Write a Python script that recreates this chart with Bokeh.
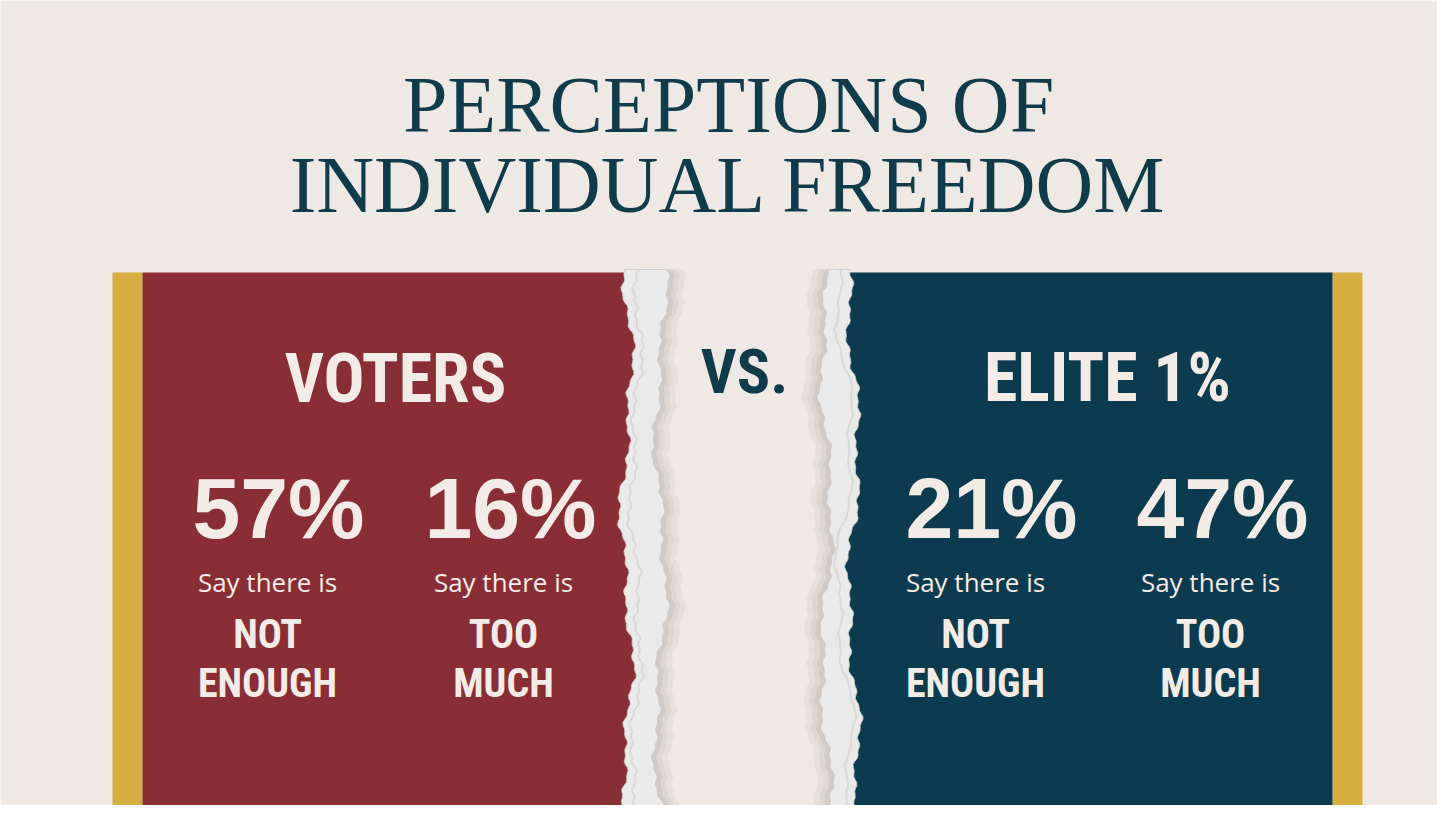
import numpy as np
from bokeh.plotting import figure
from bokeh.models import Range1d
from bokeh.core.properties import value
from bokeh.embed import file_html
from bokeh.resources import INLINE

# ---- data ----
title_lines = ["PERCEPTIONS OF", "INDIVIDUAL FREEDOM"]
groups = ["VOTERS", "ELITE 1%"]
not_enough = [57, 21]
too_much = [16, 47]
say_label = "Say there is"
answer_labels = [["NOT", "ENOUGH"], ["TOO", "MUCH"]]

# ---- style ----
BG = "#eee9e5"
RED = "#8a2e35"
BLUE = "#0c3a4e"
GOLD = "#d7ae40"
CREAM = "#f3ece6"
TEAL = "#0f3b4b"
PAPER = "#ebeaea"

W, H = 1437, 805
p = figure(width=W, height=H, output_backend="svg", toolbar_location=None,
           x_range=Range1d(0, W), y_range=Range1d(H, 0),
           min_border=0, background_fill_color=BG, border_fill_color=BG)
p.axis.visible = False
p.grid.visible = False
p.outline_line_color = None

TOP, BOT = 272, 830

# gold borders
p.quad(left=[112, 1332], right=[142, 1362], top=[TOP, TOP], bottom=[BOT, BOT],
       fill_color=GOLD, line_color=None)
# colour panels
p.quad(left=[142], right=[648], top=[TOP], bottom=[BOT], fill_color=RED, line_color=None)
p.quad(left=[838], right=[1332], top=[TOP], bottom=[BOT], fill_color=BLUE, line_color=None)

# torn paper edges (decorative deterministic wobble)
ys = np.arange(TOP - 3, BOT, 3.0)

def wob(y, s):
    return (5 * np.sin(y / 47 + s) + 3 * np.sin(y / 17 + 2.1 * s)
            + 1.6 * np.sin(y / 5.3 + 3.7 * s) + 0.9 * np.sin(y / 2.1 + 5.3 * s))

red_edge = 626 + wob(ys, 0.0)
paper1_r = 660 + wob(ys, 1.7)
paper2_l = 826 + wob(ys, 3.1)
blue_edge = 853 + wob(ys, 4.6)

# soft shadows onto the middle strip
for off, a in [(16, 0.08), (10, 0.10), (5, 0.14)]:
    p.patch(np.concatenate([paper1_r - 2, (paper1_r + off)[::-1]]),
            np.concatenate([ys, ys[::-1]]), fill_color="#8f8580", fill_alpha=a, line_color=None)
    p.patch(np.concatenate([paper2_l - off, (paper2_l + 2)[::-1]]),
            np.concatenate([ys, ys[::-1]]), fill_color="#8f8580", fill_alpha=a, line_color=None)

p.patch(np.concatenate([red_edge, paper1_r[::-1]]), np.concatenate([ys, ys[::-1]]),
        fill_color=PAPER, line_color="#c9c6c4", line_width=0.8)
p.patch(np.concatenate([paper2_l, blue_edge[::-1]]), np.concatenate([ys, ys[::-1]]),
        fill_color=PAPER, line_color="#c9c6c4", line_width=0.8)
# paper fibre shading
p.line(red_edge + 9 + 0.5 * wob(ys, 2.2), ys, line_color="#d4d1cf", line_width=2, line_alpha=0.7)
p.line(blue_edge - 9 + 0.5 * wob(ys, 5.2), ys, line_color="#d4d1cf", line_width=2, line_alpha=0.7)

# ---- texts ----
serif = value("Liberation Serif")
narrow = value("'Roboto Condensed', 'Liberation Sans Narrow', 'DejaVu Sans Condensed', sans-serif")


def base(y, fs):
    # place the alphabetic baseline at y
    return y - 0.37 * fs - 1


def txt(xs, ys_, texts, font, fs, color, style="normal"):
    p.text(x=xs, y=[base(v, fs) for v in ys_], text=texts, text_font=font,
           text_font_size=f"{fs}px", text_color=color, text_font_style=style,
           text_align="center", text_baseline="alphabetic")


txt([728, 728], [135, 215], title_lines, serif, 80, TEAL)
txt([395, 1107], [405, 404], groups, narrow, 68, CREAM, "bold")
txt([744], [395], ["VS."], narrow, 62, TEAL, "bold")

pct_x = [[278, 510], [991, 1222]]
col_x = [[267, 503], [975, 1210]]
for g in range(2):
    vals = [not_enough[g], too_much[g]]
    for k in range(2):
        cx = col_x[g][k]
        txt([pct_x[g][k]], [540], [f"{vals[k]}%"], value("Liberation Sans"), 86, CREAM, "bold")
        txt([cx], [592], [say_label], value("Open Sans"), 26, CREAM)
        txt([cx, cx], [650, 699], answer_labels[k], narrow, 40, CREAM, "bold")

open("out.html", "w").write(file_html(p, INLINE))
